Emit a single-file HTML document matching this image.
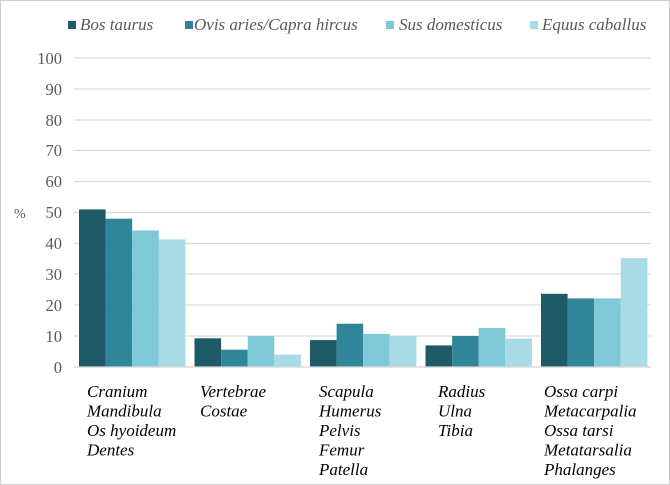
<!DOCTYPE html>
<html><head><meta charset="utf-8"><style>
body{margin:0;background:#fff}
svg{display:block}
</style></head><body>
<svg width="670" height="485" viewBox="0 0 670 485" xmlns="http://www.w3.org/2000/svg" font-family="'Liberation Serif', 'Times New Roman', serif">
<rect x="0.5" y="0.5" width="669" height="484" fill="#fff" stroke="#d0d0d0"/>
<g stroke="#d9d9d9" stroke-width="1.3">
<line x1="74" x2="651" y1="58" y2="58"/><line x1="74" x2="651" y1="89" y2="89"/>
<line x1="74" x2="651" y1="120" y2="120"/><line x1="74" x2="651" y1="150.5" y2="150.5"/>
<line x1="74" x2="651" y1="181.5" y2="181.5"/><line x1="74" x2="651" y1="212.5" y2="212.5"/>
<line x1="74" x2="651" y1="243.5" y2="243.5"/><line x1="74" x2="651" y1="274" y2="274"/>
<line x1="74" x2="651" y1="305" y2="305"/><line x1="74" x2="651" y1="336" y2="336"/>
<line x1="74" x2="651" y1="367" y2="367"/>
</g>
<g font-family="'Liberation Serif', serif" font-size="16.5" fill="#595959" text-anchor="end">
<text x="62" y="64">100</text><text x="62" y="95">90</text><text x="62" y="126">80</text>
<text x="62" y="156">70</text><text x="62" y="187">60</text><text x="62" y="218">50</text>
<text x="62" y="249">40</text><text x="62" y="280">30</text><text x="62" y="311">20</text>
<text x="62" y="342">10</text><text x="62" y="373">0</text>
</g>
<text font-family="'Liberation Serif', serif" x="14" y="218" font-size="14" fill="#595959">%</text>
<g>
<rect x="79" y="209.4" width="26.6" height="157.6" fill="#1f5b66"/>
<rect x="105.6" y="218.7" width="26.6" height="148.3" fill="#318599"/>
<rect x="132.2" y="230.4" width="26.6" height="136.6" fill="#7fc8d8"/>
<rect x="158.8" y="239.4" width="26.6" height="127.6" fill="#a8dbe5"/>
<rect x="194.5" y="338.3" width="26.6" height="28.7" fill="#1f5b66"/>
<rect x="221.1" y="349.7" width="26.6" height="17.3" fill="#318599"/>
<rect x="247.7" y="336" width="26.6" height="31" fill="#7fc8d8"/>
<rect x="274.3" y="354.6" width="26.6" height="12.4" fill="#a8dbe5"/>
<rect x="310" y="340.1" width="26.6" height="26.9" fill="#1f5b66"/>
<rect x="336.6" y="323.7" width="26.6" height="43.3" fill="#318599"/>
<rect x="363.2" y="333.9" width="26.6" height="33.1" fill="#7fc8d8"/>
<rect x="389.8" y="336" width="26.6" height="31" fill="#a8dbe5"/>
<rect x="425.5" y="345.4" width="26.6" height="21.6" fill="#1f5b66"/>
<rect x="452.1" y="336" width="26.6" height="31" fill="#318599"/>
<rect x="478.7" y="328" width="26.6" height="39" fill="#7fc8d8"/>
<rect x="505.3" y="338.6" width="26.6" height="28.4" fill="#a8dbe5"/>
<rect x="541" y="293.8" width="26.6" height="73.2" fill="#1f5b66"/>
<rect x="567.6" y="298.4" width="26.6" height="68.6" fill="#318599"/>
<rect x="594.2" y="298.4" width="26.6" height="68.6" fill="#7fc8d8"/>
<rect x="620.8" y="258.2" width="26.6" height="108.8" fill="#a8dbe5"/>
</g>
<line x1="74" x2="651" y1="367" y2="367" stroke="#d9d9d9" stroke-width="1.3"/>
<g font-family="'Liberation Serif', serif" font-size="17" font-style="italic" fill="#000">
<text x="87" y="397">Cranium</text><text x="87" y="416.5">Mandibula</text><text x="87" y="436">Os hyoideum</text><text x="87" y="455.5">Dentes</text>
<text x="200" y="397">Vertebrae</text><text x="200" y="416.5">Costae</text>
<text x="319" y="397">Scapula</text><text x="319" y="416.5">Humerus</text><text x="319" y="436">Pelvis</text><text x="319" y="455.5">Femur</text><text x="319" y="475">Patella</text>
<text x="438" y="397">Radius</text><text x="438" y="416.5">Ulna</text><text x="438" y="436">Tibia</text>
<text x="544" y="397">Ossa carpi</text><text x="544" y="416.5">Metacarpalia</text><text x="544" y="436">Ossa tarsi</text><text x="544" y="455.5">Metatarsalia</text><text x="544" y="475">Phalanges</text>
</g>
<g font-family="'Liberation Serif', serif" font-size="17" font-style="italic" fill="#595959">
<rect x="68" y="21" width="8" height="8" fill="#1f5b66"/><text x="80" y="30">Bos taurus</text>
<rect x="185" y="21" width="8" height="8" fill="#318599"/><text x="194" y="30">Ovis aries/Capra hircus</text>
<rect x="386" y="21" width="8" height="8" fill="#7fc8d8"/><text x="399" y="30">Sus domesticus</text>
<rect x="530" y="21" width="8" height="8" fill="#a8dbe5"/><text x="542" y="30">Equus caballus</text>
</g>
</svg>
</body></html>
